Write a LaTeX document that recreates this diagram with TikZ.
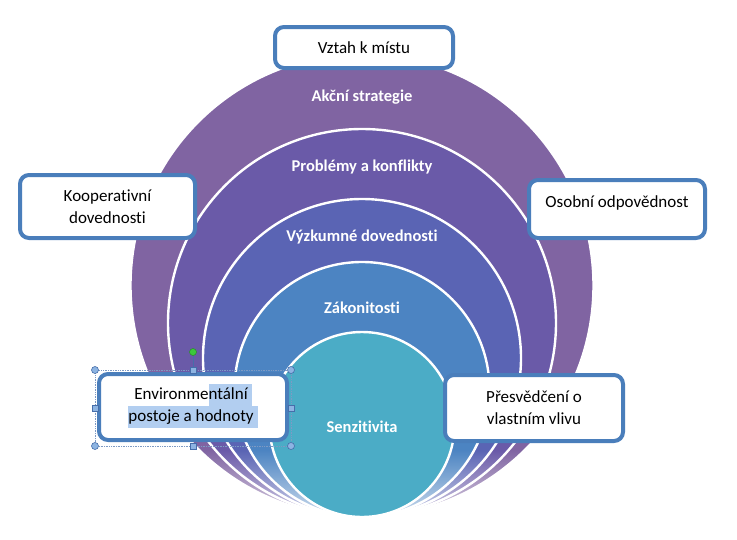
\documentclass[tikz,border=0pt]{standalone}
\usepackage{fontspec}
\setmainfont{Carlito}[Ligatures=CommonOff]
\usetikzlibrary{shapes.geometric,fadings}
\definecolor{cA}{RGB}{128,100,162}
\definecolor{cB}{RGB}{106,90,168}
\definecolor{cC}{RGB}{90,100,180}
\definecolor{cD}{RGB}{76,132,194}
\definecolor{cE}{RGB}{75,172,198}
\definecolor{boxline}{RGB}{74,126,187}
\definecolor{hlblue}{RGB}{178,206,240}
\definecolor{hdlfill}{RGB}{141,180,226}
\definecolor{hdlline}{RGB}{70,110,170}
\definecolor{rotgreen}{RGB}{60,200,60}
\tikzfading[name=fadeup, top color=transparent!100, bottom color=transparent!25]
\newcommand\myhl[1]{\begingroup\setlength{\fboxsep}{0pt}\colorbox{hlblue}{\strut #1}\endgroup}
\tikzset{
  ring/.style={fill=#1, draw=white, line width=2.4pt},
  ringtext/.style={text=white, font=\fontsize{16.5}{18}\selectfont\bfseries},
  box/.style={draw=boxline, line width=4pt, fill=white, rounded corners=9pt,
    align=center, font=\fontsize{17}{22}\selectfont, inner sep=0pt},
  hdl/.style={circle, draw=hdlline, fill=hdlfill, line width=0.6pt, minimum size=7pt, inner sep=0pt},
  hdlsq/.style={rectangle, draw=hdlline, fill=hdlfill, line width=0.6pt, minimum size=6pt, inner sep=0pt},
}
\begin{document}
\begin{tikzpicture}[x=1pt,y=-1pt]
\useasboundingbox (0,0) rectangle (737,539);
\fill[white] (0,0) rectangle (737,539);
% nested circles, tangent at the bottom (y=517)
\draw[ring=cA] (362,285.5) circle[radius=231.5pt];
\draw[ring=cB] (362,323) circle[radius=194pt];
\draw[ring=cC] (362,358) circle[radius=159pt];
\draw[ring=cD] (362,389.5) circle[radius=127.5pt];
\begin{scope}
  \clip (362,285.5) circle[radius=233pt];
  \fill[white, path fading=fadeup] (120,450) rectangle (610,520);
\end{scope}
\draw[ring=cE] (362,424.5) circle[radius=92.5pt];
% ring labels
\node[ringtext] (t1) at (362,97) {Akční strategie};
\node[ringtext] (t2) at (362,167) {Problémy a konflikty};
\node[ringtext] (t3) at (362,237) {Výzkumné dovednosti};
\node[ringtext] (t4) at (362,308) {Zákonitosti};
\node[ringtext] (t5) at (362,427) {Senzitivita};
% boxes
\node[box, minimum width=178pt, minimum height=41pt] (vztah) at (364,47.5) {Vztah k místu};
\node[box, minimum width=175pt, minimum height=63pt] (koop) at (107.5,206.5) {Kooperativní\\dovednosti};
\node[box, minimum width=176pt, minimum height=58pt] (osob) at (617,209) {\raisebox{2pt}[0pt][0pt]{Osobní odpovědnost}};
\node[box, minimum width=178pt, minimum height=66pt] (presv) at (534,408) {Přesvědčení o\\vlastním vlivu};
\node[box, minimum width=188pt, minimum height=66pt] (env) at (193,407) {};
\node[align=center, font=\fontsize{17}{22}\selectfont, inner sep=0pt] (envt) at (193,406)
  {Environme\myhl{ntální\ }\\\myhl{postoje a hodnoty\ }};
% selection frame of the edited box
\draw[hdlline!70, densely dotted, line width=0.7pt] (95,370) rectangle (291,446);
\node[circle, fill=rotgreen, draw=rotgreen!70!black, line width=0.5pt, minimum size=7pt, inner sep=0pt] (rot) at (193,352) {};
\node[hdlsq] (hn) at (193,370) {};
\draw[hdlline, line width=0.6pt] (rot) -- (hn);
\node[hdl] (hnw) at (95,370) {};
\node[hdl] (hne) at (291,370) {};
\node[hdl] (hsw) at (95,446) {};
\node[hdl] (hse) at (291,446) {};
\node[hdlsq] (hw) at (95,408) {};
\node[hdlsq] (he) at (291,408) {};
\node[hdlsq] (hs) at (193,446) {};
\end{tikzpicture}
\end{document}
